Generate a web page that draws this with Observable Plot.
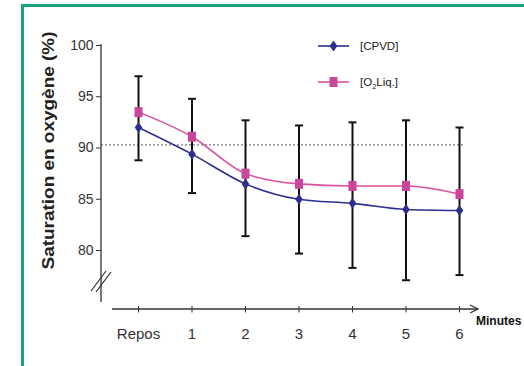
<!DOCTYPE html>
<html><head><meta charset="utf-8">
<script src="https://cdn.jsdelivr.net/npm/d3@7"></script>
<script src="https://cdn.jsdelivr.net/npm/@observablehq/plot@0.6"></script>
<style>
html,body{margin:0;padding:0;background:#fff;overflow:hidden;}
#wrap{position:relative;width:524px;height:366px;overflow:hidden;}
#box{position:absolute;left:21px;top:4px;width:700px;height:600px;border:3px solid #1ba283;box-sizing:border-box;}
#chart{position:absolute;left:0;top:0;}
</style></head><body><div id="wrap"><div id="box"></div><div id="chart"></div></div>
<script>
// ---- data ----
const categories = ["Repos", "1", "2", "3", "4", "5", "6"];
const seriesNames = ["[CPVD]", "[O₂Liq.]"];
const cpvd = [92.0, 89.4, 86.5, 85.0, 84.6, 84.0, 83.9];
const o2liq = [93.5, 91.1, 87.5, 86.5, 86.3, 86.3, 85.5];
const errHigh = [97.0, 94.8, 92.7, 92.2, 92.5, 92.7, 92.0];
const errLow = [88.8, 85.6, 81.4, 79.7, 78.3, 77.1, 77.6];
const yTicks = [80, 85, 90, 95, 100];
const refLine = [90.3];
const yLabel = "Saturation en oxygène (%)";
const xLabel = "Minutes";

// ---- styles ----
const blue = "#2c2f8e";
const pink = "#dc4f9c";
const pinkMark = "#c9469a";
const font = "'Liberation Sans', Arial, sans-serif";

const idx = categories.map((c, i) => i);
const errData = idx.map(i => ({i, lo: errLow[i], hi: errHigh[i]}));
const cpvdData = idx.map(i => ({i, v: cpvd[i]}));
const o2Data = idx.map(i => ({i, v: o2liq[i]}));

const diamond = {draw(c) { c.moveTo(0, -5.5); c.lineTo(3.8, 0); c.lineTo(0, 5.5); c.lineTo(-3.8, 0); c.closePath(); }};
const rect = {draw(c) { c.moveTo(-4, -5); c.lineTo(4, -5); c.lineTo(4, 5); c.lineTo(-4, 5); c.closePath(); }};
const cap = {draw(c) { c.moveTo(-4, 0); c.lineTo(4, 0); }};

function axesDecor(index, scales, values, dim) {
  const g = d3.create("svg:g").attr("fill", "none").attr("stroke", "#333");
  const xl = dim.marginLeft, yb = dim.height - dim.marginBottom, xr = dim.width - dim.marginRight;
  // y axis line
  g.append("line").attr("x1", xl).attr("x2", xl).attr("y1", scales.y(100) - 1).attr("y2", yb).attr("stroke-width", 1.3);
  // break marks
  g.append("line").attr("x1", xl - 10).attr("y1", yb - 11).attr("x2", xl + 5).attr("y2", yb - 31).attr("stroke-width", 1.2);
  g.append("line").attr("x1", xl - 5).attr("y1", yb - 10).attr("x2", xl + 10).attr("y2", yb - 30).attr("stroke-width", 1.2);
  // x axis line with arrow
  const ya = yb + 7;
  g.append("line").attr("x1", xl + 11).attr("x2", xr).attr("y1", ya).attr("y2", ya).attr("stroke-width", 1.3);
  g.append("path").attr("d", `M${xr - 8},${ya - 4}L${xr},${ya}L${xr - 8},${ya + 4}`).attr("stroke-width", 1.3);
  // x label
  g.append("text").attr("x", xr - 2).attr("y", ya + 16).attr("fill", "#111").attr("stroke", "none")
    .attr("text-anchor", "start")
    .attr("font-family", "'Liberation Sans Narrow', 'Liberation Sans', Arial, sans-serif")
    .attr("font-weight", "bold").attr("font-size", 12).text(xLabel);
  // y label
  g.append("text").attr("transform", `translate(54,${(scales.y(100) + yb) / 2 - 23}) rotate(-90)`)
    .attr("text-anchor", "middle").attr("fill", "#222").attr("stroke", "none")
    .attr("font-family", font).attr("font-weight", "bold").attr("font-size", 16)
    .attr("textLength", 238).attr("lengthAdjust", "spacingAndGlyphs").text(yLabel);
  return g.node();
}

function legendMark(index, scales, values, dim) {
  const g = d3.create("svg:g");
  const colors = [blue, pink], marks = [diamond, rect], markFill = [blue, pinkMark];
  seriesNames.forEach((name, k) => {
    const y = 46 + 36 * k;
    g.append("line").attr("x1", 318).attr("x2", 349).attr("y1", y).attr("y2", y).attr("stroke", colors[k]).attr("stroke-width", 1.6);
    const p = d3.path(); marks[k].draw(p);
    g.append("path").attr("d", p.toString()).attr("transform", `translate(333.5,${y})`).attr("fill", markFill[k]);
    const t = g.append("text").attr("x", 360).attr("y", y + 4).attr("text-anchor", "start")
      .attr("font-family", font).attr("font-size", 11.5).attr("fill", "#222");
    const parts = name.split("₂");
    if (parts.length === 2) {
      t.append("tspan").text(parts[0]);
      t.append("tspan").attr("font-size", 7.5).attr("dy", 3).text("2");
      t.append("tspan").attr("dy", -3).text(parts[1]);
    } else t.text(name);
  });
  return g.node();
}

const chart = Plot.plot({
  width: 524,
  height: 366,
  marginLeft: 101,
  marginRight: 46,
  marginTop: 45,
  marginBottom: 64,
  style: {background: "transparent", fontFamily: font},
  x: {domain: [0, 6], range: [138, 459]},
  y: {domain: [80, 100], range: [250, 45]},
  marks: [
    Plot.ruleY(refLine, {stroke: "#555", strokeWidth: 1, strokeDasharray: "2,2", insetRight: 15}),
    Plot.ruleX(errData, {x: "i", y1: "lo", y2: "hi", stroke: "#111", strokeWidth: 2}),
    Plot.dot(errData, {x: "i", y: "lo", symbol: cap, stroke: "#111", fill: "none", strokeWidth: 2}),
    Plot.dot(errData, {x: "i", y: "hi", symbol: cap, stroke: "#111", fill: "none", strokeWidth: 2}),
    Plot.line(cpvdData, {x: "i", y: "v", stroke: blue, strokeWidth: 1.6, curve: "monotone-x"}),
    Plot.line(o2Data, {x: "i", y: "v", stroke: pink, strokeWidth: 1.6, curve: "monotone-x"}),
    Plot.dot(cpvdData, {x: "i", y: "v", symbol: diamond, fill: blue, stroke: "none"}),
    Plot.dot(o2Data, {x: "i", y: "v", symbol: rect, fill: pinkMark, stroke: "none"}),
    Plot.axisY({ticks: yTicks, tickSize: 5, tickPadding: 3, fontSize: 14, color: "#333", label: null}),
    Plot.axisX({ticks: idx, tickFormat: i => categories[i], anchor: "bottom", dy: 4, tickSize: 6.5, tickPadding: 15, fontSize: 15, color: "#333", label: null}),
    axesDecor,
    legendMark
  ]
});
document.getElementById("chart").appendChild(chart);
</script></body></html>
